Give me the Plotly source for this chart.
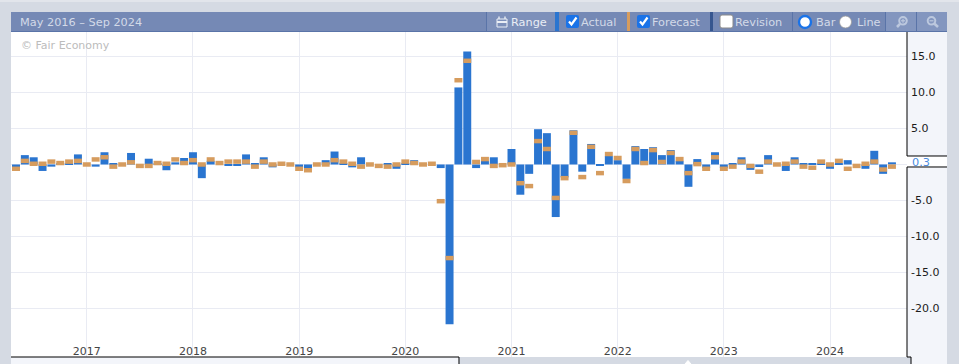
import plotly.graph_objects as go
import pandas as pd

W, H = 959, 364
L, R, T, B = 11, 907, 32, 357

months = [d.strftime("%b %Y") for d in pd.date_range("2016-05-01", "2024-08-01", freq="MS")]
actual = [-0.4, 1.3, 1.0, -0.9, -0.3, 0.2, 0.1, 1.4, 0.0, -0.3, 1.7, 0.1, 0.0, 1.6, 0.0, 0.8, 0.1, -0.8, 0.3, 0.9,
          1.7, -1.9, 0.5, 0.0, -0.2, -0.2, 1.4, 0.1, 1.0, -0.4, 0.0, 0.0, -0.4, -0.5, 0.0, 0.6, 1.8, 0.1, -0.4, 1.0,
          0.0, 0.0, 0.2, -0.6, 0.1, 0.6, 0.0, 0.0, -0.5, -22.2, 10.7, 15.7, -0.5, 0.5, 1.0, 0.0, 2.15, -4.2, -1.3, 4.9,
          4.35, -7.3, -1.8, 4.75, -1.0, 2.85, -0.2, 1.2, 0.6, -2.0, 2.55, 2.15, 2.4, 1.3, 2.0, 0.5, -3.1, 0.75, -0.5, 1.7,
          -0.5, 0.1, 1.0, -0.75, -0.35, 1.3, 0.0, -0.9, 1.0, 0.2, 0.2, 0.1, -0.6, 0.2, 0.6, 0.0, -0.6, 1.9, -1.3, 0.3]
forecast = [-0.6, 0.5, 0.1, 0.1, 0.4, 0.2, 0.4, 0.5, 0.0, 0.7, 1.0, -0.3, 0.0, 0.3, -0.2, -0.2, 0.2, 0.1, 0.7, 0.2,
            0.6, 0.0, 0.7, 0.2, 0.4, 0.4, 0.4, -0.3, 0.4, 0.0, 0.1, 0.0, -0.6, -0.8, 0.0, 0.0, 0.6, 0.4, 0.1, -0.3,
            0.0, -0.2, -0.3, 0.0, 0.4, 0.2, 0.0, 0.1, -5.1, -13.0, 11.7, 14.4, 0.35, 0.75, -0.2, -0.1, 0.0, -2.6, -3.0, 3.25,
            2.15, -4.65, -1.9, 4.4, -1.75, 2.45, -1.2, 1.45, 0.9, -2.3, 2.15, 0.2, 2.0, 0.35, 1.6, 0.75, -1.2, 0.05, -0.6, 1.0,
            -0.6, -0.3, 0.4, -0.2, -1.0, 0.4, 0.0, 0.1, 0.4, -0.3, -0.45, 0.4, 0.0, 0.5, -0.6, -0.2, 0.1, 0.4, -0.7, -0.3]
year_ticks = ["Jan 2017", "Jan 2018", "Jan 2019", "Jan 2020", "Jan 2021", "Jan 2022", "Jan 2023", "Jan 2024"]
year_labels = ["2017", "2018", "2019", "2020", "2021", "2022", "2023", "2024"]
y_ticks = [15, 10, 5, 0, -5, -10, -15, -20]
y_labels = ["15.0", "10.0", "5.0", "", "-5.0", "-10.0", "-15.0", "-20.0"]

BLUE, ORANGE = "#2a75d0", "#d69c5e"
GRID = "#e9ebf3"
PAGE = "#d5dae3"
PANEL = "#f3f5fa"
HEAD = "#7589b5"
HEAD_LIGHT = "#8396bf"
HEAD_LINE = "#5a74a8"
TXT = "#d3dae8"
ICON = "#bcc8de"
MARK_H = 0.62

px = lambda x: x / W
py = lambda y: 1 - y / H

shapes, notes = [], []


def rect(x0, y0, x1, y1, fill, line=None, lw=1):
    shapes.append(dict(type="rect", xref="paper", yref="paper", x0=px(x0), x1=px(x1), y0=py(y0), y1=py(y1),
                       fillcolor=fill, line=dict(color=line or fill, width=lw if line else 0), layer="below"))


def seg(pts, color, lw=1, fill=None, close=False):
    d = "M" + " L".join(f"{px(a):.5f},{py(b):.5f}" for a, b in pts) + (" Z" if close else "")
    shapes.append(dict(type="path", xref="paper", yref="paper", path=d, fillcolor=fill or "rgba(0,0,0,0)",
                       line=dict(color=color, width=lw), layer="above"))


def circle(cx, cy, r, fill, line=None, lw=1, layer="above"):
    shapes.append(dict(type="circle", xref="paper", yref="paper", x0=px(cx - r), x1=px(cx + r), y0=py(cy + r),
                       y1=py(cy - r), fillcolor=fill, line=dict(color=line or fill, width=lw if line else 0), layer=layer))


def round_box(x0, y0, x1, y1, r, fill, line=None):
    f = lambda a, b: f"{px(a):.5f},{py(b):.5f}"
    d = (f"M{f(x0 + r, y0)} L{f(x1 - r, y0)} Q{f(x1, y0)} {f(x1, y0 + r)} L{f(x1, y1 - r)} Q{f(x1, y1)} {f(x1 - r, y1)} "
         f"L{f(x0 + r, y1)} Q{f(x0, y1)} {f(x0, y1 - r)} L{f(x0, y0 + r)} Q{f(x0, y0)} {f(x0 + r, y0)} Z")
    shapes.append(dict(type="path", xref="paper", yref="paper", path=d, fillcolor=fill,
                       line=dict(color=line or fill, width=1 if line else 0), layer="above"))


def text(x, y, s, color=TXT, size=11.3, anchor="left"):
    notes.append(dict(xref="paper", yref="paper", x=px(x - 2), y=py(y), text=s, showarrow=False, xanchor=anchor,
                      yanchor="middle", font=dict(family="DejaVu Sans", size=size, color=color)))


# page frame
rect(0, 0, W, 2, "#e2e5eb")
rect(0, 2, W, H, PAGE)
rect(L, T, R, B, "#ffffff")
# header band
rect(L, 12, 947, 31, HEAD)
rect(L, 31, 947, 32, HEAD_LINE)
rect(487, 12, 555, 31, "#7d90ba")
rect(555, 12, 559, 31, BLUE)
rect(627, 12, 630, 31, ORANGE)
rect(710, 12, 713, 31, "#36568f")
rect(486, 12, 487, 31, HEAD_LINE)
rect(792, 12, 793, 31, HEAD_LINE)
rect(885, 12, 886, 31, HEAD_LINE)
rect(886, 12, 916, 31, HEAD_LIGHT)
rect(916, 12, 917, 31, HEAD_LINE)
rect(917, 12, 947, 31, HEAD_LIGHT)
# y-axis panel and bottom strip
rect(R, T, 947, 156, PANEL)
rect(R, 156, 947, 167, "#ffffff")
rect(R, 167, 947, B, PANEL)
rect(911, B, 947, H, PANEL)
rect(L, B, 459, H, PANEL)
seg([(R, T), (R, 156), (947, 156)], "#000000", 1)
seg([(947, 167), (R, 167), (R, B), (911, B), (911, H)], "#000000", 1)
seg([(L, B), (459, B), (459, H)], "#000000", 1)
seg([(685, H), (688, 360.5), (691, H)], "#ffffff", 1, fill="#ffffff", close=True)
seg([(896, 164.5), (907, 164.5)], GRID, 1)

# toolbar widgets
text(20, 22, "May 2016 – Sep 2024", size=11.3)
text(511, 22, "Range", color="#eaeef5")
text(581, 22, "Actual")
text(652, 22, "Forecast")
text(735, 22, "Revision")
text(816, 22, "Bar")
text(857, 22, "Line")
text(21, 45, "© Fair Economy", color="#bcbcbc", size=11)
text(912, 162, "0.3", color="#4a8be0", size=11.3)

for x0 in (566, 637):
    round_box(x0, 15, x0 + 13, 28, 2, "#1a73e8")
    seg([(x0 + 3, 21.5), (x0 + 5.5, 24.5), (x0 + 10.5, 17.5)], "#ffffff", 2.2)
round_box(720, 15, 733, 28, 2, "#ffffff", "#8a8a8a")
circle(805, 22, 6, "#ffffff", "#1a73e8", 2.4)
circle(845.5, 22, 6, "#ffffff", "#9a9a9a", 0.8)

# calendar icon
seg([(497, 19), (507, 19), (507, 27), (497, 27)], "#eaeef5", 1, close=True)
seg([(497, 22), (507, 22)], "#eaeef5", 2)
seg([(499, 16.5), (499, 19)], "#eaeef5", 1.4)
seg([(505, 16.5), (505, 19)], "#eaeef5", 1.4)
# magnifier icons
circle(903, 20.8, 3.8, "rgba(0,0,0,0)", ICON, 2)
seg([(900, 23.8), (897, 27)], ICON, 2.6)
seg([(901, 20.8), (905, 20.8)], ICON, 1.2)
seg([(903, 18.8), (903, 22.8)], ICON, 1.2)
circle(931.5, 20.8, 3.8, "rgba(0,0,0,0)", ICON, 2)
seg([(934.5, 23.8), (938, 27)], ICON, 2.6)
seg([(929.5, 20.8), (933.5, 20.8)], ICON, 1.2)

fig = go.Figure()
fig.add_bar(x=months, y=actual, marker_color=BLUE, marker_line_width=0, width=0.9, name="Actual")
fig.add_bar(x=months, y=[MARK_H] * len(forecast), base=[f - MARK_H / 2 for f in forecast],
            marker_color=ORANGE, marker_line_width=0, width=0.9, name="Forecast")

fig.update_layout(
    width=W, height=H, margin=dict(l=0, r=0, t=0, b=0), paper_bgcolor=PAGE, plot_bgcolor="rgba(0,0,0,0)",
    barmode="overlay", showlegend=False, shapes=shapes, annotations=notes,
    font=dict(family="DejaVu Sans", size=11, color="#1c1c1c"),
    xaxis=dict(type="category", categoryorder="array", categoryarray=months, domain=[px(L), px(R)],
               range=[-0.565, 100.7], tickmode="array", tickvals=year_ticks, ticktext=year_labels,
               ticklabelposition="inside", ticklabelstandoff=-3, showgrid=True, gridcolor=GRID, gridwidth=1, ticks="",
               showline=False, zeroline=False, anchor="y"),
    yaxis=dict(domain=[py(B), py(T)], range=[-26.74, 18.4], side="right", tickmode="array", tickvals=y_ticks,
               ticktext=y_labels, ticklabelstandoff=3, showgrid=True, gridcolor=GRID, gridwidth=1, ticks="",
               showline=False, zeroline=False, anchor="x"),
)
fig.write_html("out.html", config=dict(displayModeBar=False),
               post_script="document.body.style.margin='0';document.body.style.overflow='hidden';")
